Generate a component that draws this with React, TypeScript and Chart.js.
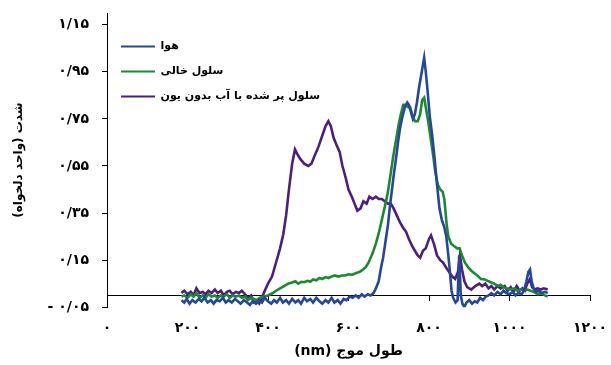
import { useEffect, useRef } from 'react';
import { Chart, registerables } from 'chart.js';

Chart.register(...registerables);

// ---- data ----
const seriesNames = ['هوا', 'سلول خالی', 'سلول پر شده با آب بدون یون'];

const airWavelengths = [185, 192, 198, 205, 212, 220, 228, 235, 242, 250, 258, 265, 272, 280, 288, 295, 302, 310, 318, 325, 332, 340, 348, 355, 362, 370, 378, 385, 392, 400, 408, 415, 422, 430, 437, 445, 452, 460, 468, 475, 482, 490, 497, 505, 512, 520, 528, 535, 543, 550, 558, 565, 573, 580, 588, 595, 603, 610, 618, 625, 633, 640, 648, 655, 662, 668, 675, 681, 686, 692, 698, 703, 708, 713, 718, 723, 728, 734, 740, 746, 750, 755, 760, 765, 770, 775, 780, 785, 788, 792, 797, 802, 808, 814, 820, 826, 832, 838, 843, 848, 852, 856, 860, 866, 871, 875, 879, 883, 888, 893, 900, 907, 914, 920, 927, 934, 941, 948, 955, 962, 970, 978, 985, 992, 1000, 1008, 1015, 1022, 1030, 1036, 1042, 1047, 1051, 1055, 1060, 1066, 1072, 1080, 1088, 1095];
const airValues = [-0.02, -0.03, -0.015, -0.035, -0.02, -0.03, -0.015, -0.025, -0.01, -0.03, -0.02, -0.035, -0.02, -0.025, -0.01, -0.03, -0.02, -0.03, -0.015, -0.025, -0.035, -0.02, -0.03, -0.04, -0.025, -0.035, -0.02, -0.03, -0.01, -0.025, -0.035, -0.02, -0.03, -0.01, -0.03, -0.02, -0.035, -0.015, -0.03, -0.02, -0.035, -0.01, -0.025, -0.015, -0.03, -0.01, -0.025, -0.035, -0.02, -0.03, -0.01, -0.03, -0.02, -0.035, -0.015, -0.02, -0.005, -0.01, 0.0, -0.01, 0.005, -0.005, 0.005, 0.0, 0.01, 0.03, 0.06, 0.12, 0.16, 0.23, 0.3, 0.38, 0.45, 0.52, 0.58, 0.65, 0.71, 0.76, 0.8, 0.82, 0.81, 0.78, 0.75, 0.77, 0.82, 0.88, 0.93, 0.98, 1.01, 0.95, 0.86, 0.76, 0.68, 0.58, 0.47, 0.37, 0.32, 0.29, 0.25, 0.17, 0.1, 0.02, -0.01, -0.03, -0.02, 0.17, 0.0, -0.035, -0.05, -0.03, -0.02, -0.035, -0.025, -0.03, -0.01, -0.02, -0.005, 0.0, 0.01, 0.0, 0.015, 0.005, 0.02, 0.01, 0.005, 0.015, 0.0, 0.01, 0.005, 0.02, 0.06, 0.1, 0.11, 0.06, 0.03, 0.015, 0.02, 0.01, 0.015, 0.01];

const emptyWavelengths = [185, 192, 200, 208, 215, 222, 230, 238, 245, 252, 260, 268, 275, 283, 290, 298, 305, 312, 320, 328, 335, 343, 350, 358, 365, 372, 380, 390, 400, 410, 420, 430, 440, 450, 460, 468, 475, 483, 490, 498, 505, 512, 520, 528, 535, 543, 550, 558, 566, 575, 583, 592, 600, 610, 619, 628, 636, 643, 650, 660, 668, 676, 684, 692, 698, 705, 712, 718, 724, 730, 736, 742, 748, 753, 758, 765, 772, 778, 783, 788, 793, 798, 804, 810, 816, 822, 828, 834, 838, 844, 848, 855, 862, 870, 876, 882, 889, 897, 905, 912, 920, 929, 939, 948, 955, 962, 971, 978, 985, 992, 1004, 1012, 1020, 1030, 1037, 1045, 1052, 1060, 1071, 1080, 1088, 1095];
const emptyValues = [-0.005, 0.0, -0.01, 0.005, -0.005, 0.01, -0.01, 0.0, -0.01, 0.005, -0.005, 0.0, -0.01, 0.0, -0.005, 0.005, -0.01, 0.0, -0.005, 0.0, -0.01, -0.005, -0.02, -0.01, -0.015, -0.02, -0.01, -0.005, 0.0, 0.008, 0.02, 0.03, 0.04, 0.05, 0.055, 0.06, 0.05, 0.058, 0.056, 0.062, 0.058, 0.068, 0.064, 0.074, 0.07, 0.078, 0.074, 0.08, 0.085, 0.08, 0.085, 0.085, 0.09, 0.088, 0.095, 0.1, 0.11, 0.12, 0.14, 0.18, 0.22, 0.27, 0.33, 0.39, 0.44, 0.52, 0.6, 0.66, 0.72, 0.77, 0.81, 0.81, 0.8, 0.8, 0.77, 0.74, 0.74, 0.77, 0.83, 0.84, 0.79, 0.74, 0.67, 0.6, 0.52, 0.47, 0.45, 0.44, 0.41, 0.3, 0.25, 0.22, 0.21, 0.2, 0.2, 0.17, 0.14, 0.12, 0.105, 0.095, 0.085, 0.07, 0.068, 0.06, 0.055, 0.05, 0.04, 0.045, 0.035, 0.03, 0.025, 0.03, 0.02, 0.025, 0.02, 0.025, 0.02, 0.015, 0.005, 0.01, 0.0, -0.005];

const waterWavelengths = [185, 192, 200, 208, 215, 222, 230, 238, 245, 252, 260, 268, 275, 283, 290, 298, 305, 312, 320, 328, 335, 343, 350, 358, 365, 372, 378, 385, 392, 400, 410, 420, 430, 438, 445, 452, 460, 467, 473, 480, 490, 500, 508, 515, 525, 535, 543, 550, 556, 563, 570, 578, 585, 593, 600, 608, 615, 622, 630, 637, 645, 652, 660, 668, 675, 683, 690, 698, 705, 712, 720, 728, 735, 743, 750, 758, 765, 772, 778, 785, 792, 800, 805, 812, 820, 828, 835, 842, 850, 858, 865, 872, 877, 882, 888, 895, 905, 915, 925, 932, 940, 948, 955, 962, 970, 978, 988, 995, 1003, 1010, 1018, 1025, 1032, 1038, 1044, 1051, 1056, 1062, 1070, 1078, 1085, 1095];
const waterValues = [0.01, 0.02, 0.005, 0.015, 0.0, 0.03, 0.01, 0.015, 0.005, 0.02, 0.01, 0.025, 0.01, 0.02, 0.0, 0.015, 0.02, 0.005, 0.015, 0.01, 0.02, 0.005, -0.01, 0.0, -0.03, -0.025, -0.035, -0.01, 0.02, 0.05, 0.08, 0.14, 0.2, 0.26, 0.34, 0.45, 0.56, 0.62, 0.6, 0.58, 0.56, 0.55, 0.56, 0.59, 0.63, 0.68, 0.72, 0.74, 0.72, 0.67, 0.64, 0.61, 0.55, 0.5, 0.45, 0.42, 0.39, 0.36, 0.37, 0.4, 0.39, 0.42, 0.41, 0.42, 0.41, 0.41, 0.4, 0.39, 0.39, 0.37, 0.34, 0.31, 0.29, 0.27, 0.24, 0.21, 0.19, 0.17, 0.16, 0.19, 0.2, 0.24, 0.255, 0.22, 0.17, 0.15, 0.14, 0.12, 0.1, 0.08, 0.07, 0.1, 0.17, 0.11, 0.06, 0.035, 0.025, 0.04, 0.05, 0.04, 0.05, 0.03, 0.04, 0.025, 0.04, 0.03, 0.04, 0.02, 0.035, 0.015, 0.04, 0.02, 0.03, 0.02, 0.05, 0.07, 0.035, 0.025, 0.03, 0.025, 0.03, 0.025];

const xTickLabels = ['۰', '۲۰۰', '۴۰۰', '۶۰۰', '۸۰۰', '۱۰۰۰', '۱۲۰۰'];
const yTickValues = [-0.05, 0.15, 0.35, 0.55, 0.75, 0.95, 1.15];
const yTickLabels = ['- ۰/۰۵', '۰/۱۵', '۰/۳۵', '۰/۵۵', '۰/۷۵', '۰/۹۵', '۱/۱۵'];

const xTitle = '\u202Bطول موج (nm)\u202C';
const yTitle = '\u202Bشدت (واحد دلخواه)\u202C';

const colors = ['#24479c', '#1b8a2e', '#4c1f7c'];

const FONT = '"DejaVu Sans", sans-serif';

function toPoints(xs: number[], ys: number[]) {
  return xs.map((x, i) => ({ x, y: ys[i] }));
}

export default function App() {
  const ref = useRef<HTMLCanvasElement>(null);

  useEffect(() => {
    const seriesData = [
      toPoints(airWavelengths, airValues),
      toPoints(emptyWavelengths, emptyValues),
      toPoints(waterWavelengths, waterValues),
    ];
    const chart = new Chart(ref.current!, {
      type: 'line',
      data: {
        datasets: seriesNames.map((name, i) => ({
          label: name,
          data: seriesData[i],
          borderColor: colors[i],
          backgroundColor: colors[i],
          borderWidth: 2.6,
          pointRadius: 0,
          tension: 0,
          fill: false,
        })),
      },
      options: {
        animation: false,
        responsive: true,
        maintainAspectRatio: false,
        layout: { padding: { left: 0, right: 21, top: 13, bottom: 0 } },
        plugins: {
          tooltip: { enabled: false },
          title: {
            display: true,
            position: 'bottom',
            fullSize: false,
            text: xTitle,
            color: '#000',
            padding: { top: 36, bottom: 5 },
            font: { family: FONT, size: 14, weight: 'bold' },
          },
          legend: {
            position: 'chartArea',
            align: 'start',
            title: { display: true, text: ' ', padding: 0, font: { size: 10, lineHeight: 2.7 } },
            labels: {
              boxWidth: 34,
              boxHeight: 2,
              padding: 14,
              color: '#000',
              font: { family: FONT, size: 11, weight: 'bold' },
              generateLabels: (c: any) =>
                Chart.defaults.plugins.legend.labels
                  .generateLabels(c)
                  .map((it: any) => ({ ...it, lineWidth: 0 })),
            },
          },
        },
        scales: {
          x: {
            type: 'linear',
            position: { y: 0 } as any,
            min: 0,
            max: 1200,
            ticks: {
              stepSize: 200,
              padding: 20,
              color: '#000',
              font: { family: FONT, size: 14, weight: 'bold' },
              maxRotation: 0,
              callback: (_v: any, i: number) => xTickLabels[i],
            },
            grid: { display: true, drawOnChartArea: false, drawTicks: true, tickLength: 5, color: '#000' },
            border: { display: true, color: '#000', width: 1 },
            afterFit: (s: any) => {
              s.paddingLeft = 0;
              s.paddingRight = 0;
            },
          },
          y: {
            type: 'linear',
            position: 'left',
            min: -0.05,
            max: 1.2,
            afterBuildTicks: (s: any) => {
              s.ticks = yTickValues.map((v) => ({ value: v }));
            },
            ticks: {
              padding: 13,
              color: '#000',
              font: { family: FONT, size: 14, weight: 'bold' },
              callback: (_v: any, i: number) => yTickLabels[i],
            },
            grid: { display: true, drawOnChartArea: false, drawTicks: true, tickLength: 5, color: '#000' },
            border: { display: true, color: '#000', width: 1 },
            title: {
              display: true,
              text: yTitle,
              color: '#000',
              padding: { top: 12, bottom: 4 },
              font: { family: FONT, size: 12, weight: 'bold' },
            },
            afterFit: (s: any) => {
              s.width = 107;
              s.paddingTop = 0;
              s.paddingBottom = 0;
            },
          },
        },
      },
    } as any);
    return () => chart.destroy();
  }, []);

  return (
    <div style={{ position: 'fixed', left: 0, top: 0, width: 611, height: 365, background: '#fff' }}>
      <canvas ref={ref} />
    </div>
  );
}
